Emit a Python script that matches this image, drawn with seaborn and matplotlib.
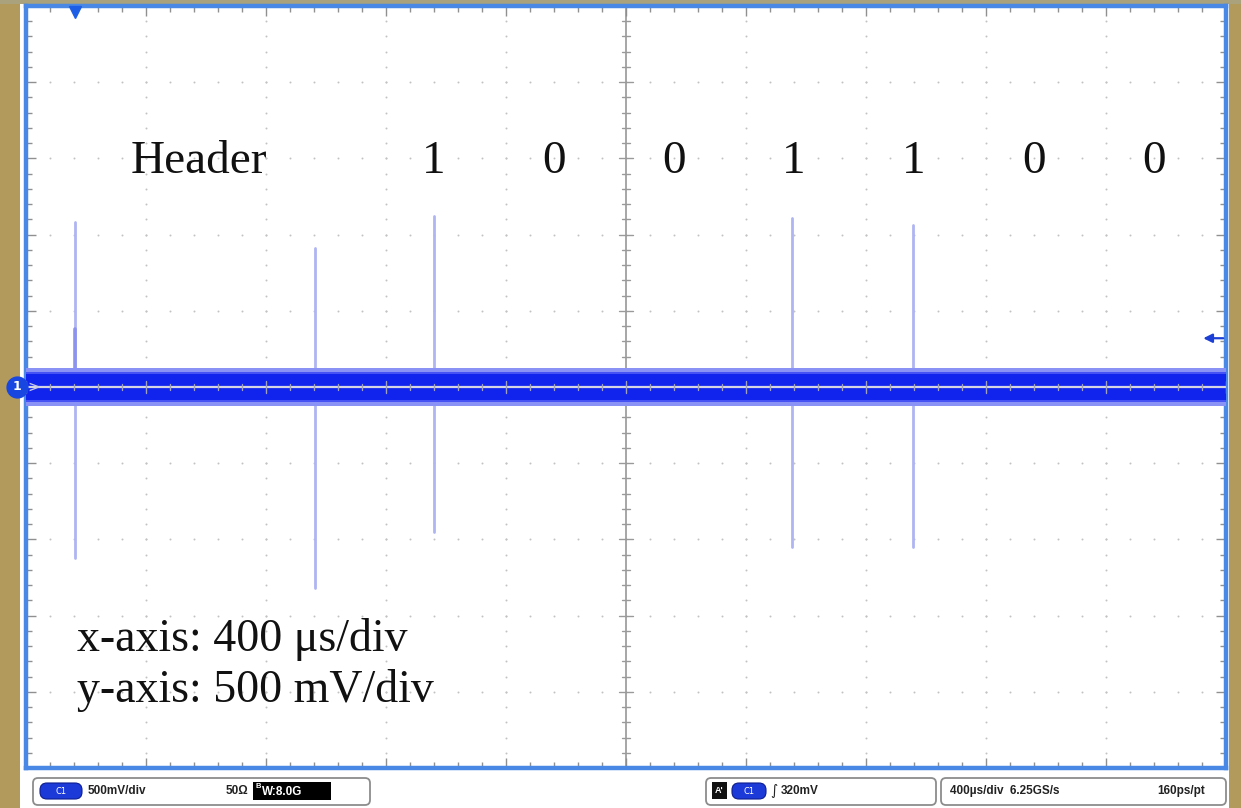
import numpy as np
import pandas as pd
import matplotlib
matplotlib.use("Agg")
import matplotlib.pyplot as plt
import seaborn as sns
from matplotlib.patches import Rectangle, FancyBboxPatch
from matplotlib.ticker import MultipleLocator

# ---------------- data ----------------
spike_time_us = [-1837, -1037, -640, 553, 957]
spike_high_v = [1.08, 0.91, 1.12, 1.11, 1.06]
spike_low_v = [-1.12, -1.32, -0.95, -1.05, -1.05]
blip_time_us = [-1837]
blip_high_v = [0.38]
bit_labels = ["1", "0", "0", "1", "1", "0", "0"]
bit_centers_us = [-640, -240, 160, 560, 960, 1360, 1760]
header_label = "Header"
header_left_us = -1650
label_level_v = 1.48
noise_core_v = 0.085
noise_outer_v = 0.125
trigger_level_v = 0.32
trigger_time_us = -1837
axis_notes = ["x-axis: 400 \u03bcs/div", "y-axis: 500 mV/div"]
axis_note_levels_v = [-1.66, -1.99]

W, H = 1241, 808
sns.set_theme(style="white")
plt.rcParams["font.family"] = ["Liberation Serif", "DejaVu Serif"]

fig = plt.figure(figsize=(W / 100, H / 100), dpi=100)
fig.patch.set_facecolor("white")

# background / frame layer in pixel coordinates
bg = fig.add_axes([0, 0, 1, 1], zorder=-5)
bg.set_xlim(0, W)
bg.set_ylim(H, 0)
bg.axis("off")
tan = "#b29a5c"
bg.add_patch(Rectangle((0, 0), 20, H, color=tan, lw=0))
bg.add_patch(Rectangle((1229, 0), 12, H, color=tan, lw=0))
bg.add_patch(Rectangle((0, 0), W, 4, color="#a9a27c", lw=0))

# ---------------- main screen ----------------
ax = fig.add_axes([26 / W, 40 / H, 1200 / W, 762 / H])
ax.set_xlim(-2000, 2000)
ax.set_ylim(-2.5, 2.5)
ax.set_facecolor("white")
for s in ax.spines.values():
    s.set_color("#4a88e6")
    s.set_linewidth(3.2)
    s.set_visible(True)

ax.xaxis.set_major_locator(MultipleLocator(400))
ax.xaxis.set_minor_locator(MultipleLocator(80))
ax.yaxis.set_major_locator(MultipleLocator(0.5))
ax.yaxis.set_minor_locator(MultipleLocator(0.1))
ax.tick_params(which="both", direction="in", top=True, right=True, bottom=True, left=True,
               labelbottom=False, labelleft=False, color="#909090", width=1)
ax.tick_params(which="major", length=7)
ax.tick_params(which="minor", length=4)

# dotted graticule
ys = np.arange(-2.5, 2.501, 0.1)
xs = np.arange(-2000, 2001, 80)
for xv in np.arange(-1600, 1601, 400):
    if xv != 0:
        ax.scatter(np.full(len(ys), xv), ys, s=2, color="#c2c2c2", lw=0, zorder=1)
for yv in np.arange(-2.0, 2.01, 0.5):
    if abs(yv) > 1e-9:
        ax.scatter(xs, np.full(len(xs), yv), s=2, color="#c2c2c2", lw=0, zorder=1)

# centre cross with ticks
ax.axvline(0, color="#8e8e8e", lw=1.1, zorder=1)
for yv in ys:
    hw = 22 if abs(round(yv * 10) % 5) == 0 else 12
    ax.plot([-hw, hw], [yv, yv], color="#9a9a9a", lw=1, zorder=1)

# spikes (drawn with seaborn)
rows = []
for i, (t, hi, lo) in enumerate(zip(spike_time_us, spike_high_v, spike_low_v)):
    rows.append({"spike": i, "time": t, "volt": lo})
    rows.append({"spike": i, "time": t, "volt": hi})
spikes = pd.DataFrame(rows)
sns.lineplot(data=spikes, x="time", y="volt", units="spike", estimator=None, sort=False,
             color="#afb4f2", lw=2.0, ax=ax, zorder=2)
blips = pd.DataFrame({"spike": [0, 0], "time": blip_time_us * 2, "volt": [0.0, blip_high_v[0]]})
sns.lineplot(data=blips, x="time", y="volt", units="spike", estimator=None, sort=False,
             color="#8c93ee", lw=2.6, ax=ax, zorder=2)
ax.set_xlabel("")
ax.set_ylabel("")

# noise band of trace
ax.fill_between([-2000, 2000], -noise_outer_v, noise_outer_v, color="#8a92f6", lw=0, zorder=3)
ax.fill_between([-2000, 2000], -noise_core_v - 0.015, noise_core_v + 0.015, color="#4652f3", lw=0, zorder=3)
ax.fill_between([-2000, 2000], -noise_core_v, noise_core_v, color="#1024ee", lw=0, zorder=3)
ax.axhline(0, color="#d4d4e4", lw=1.6, zorder=4)
for xv in xs:
    h = 0.04 if xv % 400 == 0 else 0.02
    ax.plot([xv, xv], [-h, h], color="#a0a0b8", lw=1, zorder=4)

# labels
ax.text(header_left_us, label_level_v, header_label, fontsize=34, ha="left", va="center",
        color="#111111", zorder=5)
for lab, t in zip(bit_labels, bit_centers_us):
    ax.text(t, label_level_v, lab, fontsize=34, ha="center", va="center", color="#111111", zorder=5)
for note, lv in zip(axis_notes, axis_note_levels_v):
    ax.text(-1830, lv, note, fontsize=33, ha="left", va="center", color="#111111", zorder=5)

# trigger marker, trigger level arrow, channel marker
ax.plot([trigger_time_us], [2.46], marker="v", color="#1c5ee6", ms=9, clip_on=False, zorder=6)
ax.annotate("", xy=(1915, trigger_level_v), xytext=(2000, trigger_level_v),
            arrowprops=dict(arrowstyle="-|>", color="#1c3fd6", lw=1.6, mutation_scale=13),
            zorder=6, annotation_clip=False)
ax.plot([-2030], [0], marker="o", color="#1846e0", ms=15, clip_on=False, zorder=7)
ax.text(-2030, 0, "1", color="white", fontsize=9, ha="center", va="center",
        family=["DejaVu Sans"], fontweight="bold", zorder=8, clip_on=False)
ax.text(-1975, 0, ">", color="#c8c8e8", fontsize=11, ha="center", va="center",
        family=["DejaVu Sans"], zorder=8)

# ---------------- status bar ----------------
def box(x0, x1, y0=778, y1=805):
    bg.add_patch(FancyBboxPatch((x0, y0), x1 - x0, y1 - y0,
                                boxstyle="round,pad=0,rounding_size=5",
                                fc="white", ec="#8c8c8c", lw=1.3))

def pill(x0, x1, y0=783, y1=799, text="C1"):
    bg.add_patch(FancyBboxPatch((x0, y0), x1 - x0, y1 - y0,
                                boxstyle="round,pad=0,rounding_size=7",
                                fc="#1c3ad8", ec="#0c1c90", lw=0.8))
    bg.text((x0 + x1) / 2, (y0 + y1) / 2 + 0.5, text, color="white", fontsize=6,
            ha="center", va="center", family=["DejaVu Sans"])

sb = dict(fontsize=8.5, fontweight="bold", color="#222222", va="center", ha="left",
          family=["Liberation Sans", "DejaVu Sans"])

box(33, 370)
pill(40, 82)
bg.text(88, 791, "500mV/div", **sb)
bg.text(226, 791, "50\u03a9", **sb)
bg.add_patch(Rectangle((253, 782), 78, 18, color="black", lw=0))
bg.text(256, 786, "B", color="white", fontsize=5.5, ha="left", va="center",
        family=["Liberation Sans"], fontweight="bold")
bg.text(262, 792, "W:8.0G", color="white", fontsize=8.5, ha="left", va="center",
        family=["Liberation Sans"], fontweight="bold")

box(706, 936)
bg.add_patch(Rectangle((712, 782), 15, 17, color="#111111", lw=0))
bg.text(719.5, 790.5, "A'", color="white", fontsize=6.5, ha="center", va="center",
        family=["Liberation Sans"], fontweight="bold")
pill(732, 766)
bg.text(770, 791, "\u222b", fontsize=10, color="#222222", ha="left", va="center",
        family=["DejaVu Sans"])
bg.text(781, 791, "320mV", **sb)

box(941, 1226)
bg.text(950, 791, "400\u00b5s/div  6.25GS/s", **sb)
bg.text(1157, 791, "160ps/pt", **sb)

fig.savefig("out.png", dpi=100, facecolor=fig.get_facecolor())
